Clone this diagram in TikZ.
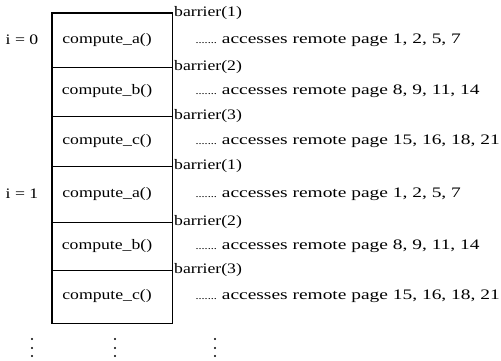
\documentclass[tikz,border=0pt]{standalone}
\usepackage{fontspec}
\setmainfont[FakeStretch=1.22]{Liberation Serif}
\newfontfamily\pagefont[FakeStretch=1.34]{Liberation Serif}
\usetikzlibrary{positioning}

\begin{document}
\begin{tikzpicture}[x=1pt,y=-1pt,
    every node/.style={font=\fontsize{14.5}{17}\selectfont},
    stepbox/.style={draw, line width=0.7pt, minimum width=120pt, inner sep=0pt},
    barrier/.style={anchor=west, inner sep=1pt},
    access/.style={inner sep=0pt, font=\fontsize{14.5}{17}\pagefont},
    iter/.style={inner sep=0pt}]
    \useasboundingbox (0,0) rectangle (501,360);
    % one box per compute step, two iterations
    \foreach \name/\top/\bot/\fn in {a0/13/67/a, b0/67/116/b, c0/116/166/c,
                                    a1/166/222/a, b1/222/270/b, c1/270/323/c}
        \node[stepbox, minimum height={\bot-\top}] (\name) at (112,{(\top+\bot)/2})
            {\hspace{-10pt}compute\_\fn()};
    % heavier outline and iteration split
    \draw[line width=1.2pt] (a0.north west) rectangle (c1.south east);
    \draw[line width=1.2pt] (c0.south west) -- (c0.south east);
    % barriers sit on the step borders
    \foreach \name/\y/\n in {bar1/13/1, bar2/67/2, bar3/116/3,
                             bar4/166/1, bar5/222/2, bar6/270/3}
        \node[barrier] (\name) at (173,\y) {barrier(\n)};
    % remote pages touched by each step
    \foreach \name/\pages in {a0/{1, 2, 5, 7}, b0/{8, 9, 11, 14}, c0/{15, 16, 18, 21},
                              a1/{1, 2, 5, 7}, b1/{8, 9, 11, 14}, c1/{15, 16, 18, 21}}
        \node[access, right=23pt of \name] (pg-\name)
            {{\fontsize{10}{12}\rmfamily .......}\hspace{5pt}accesses remote page \pages};
    \node[iter] (i0) at (22,40) {i = 0};
    \node[iter] (i1) at (22,194) {i = 1};
    % more iterations follow
    \foreach \x in {32,115,215}
        \foreach \y in {339,348,356}
            \fill (\x,\y) circle (1.1pt);
\end{tikzpicture}
\end{document}
